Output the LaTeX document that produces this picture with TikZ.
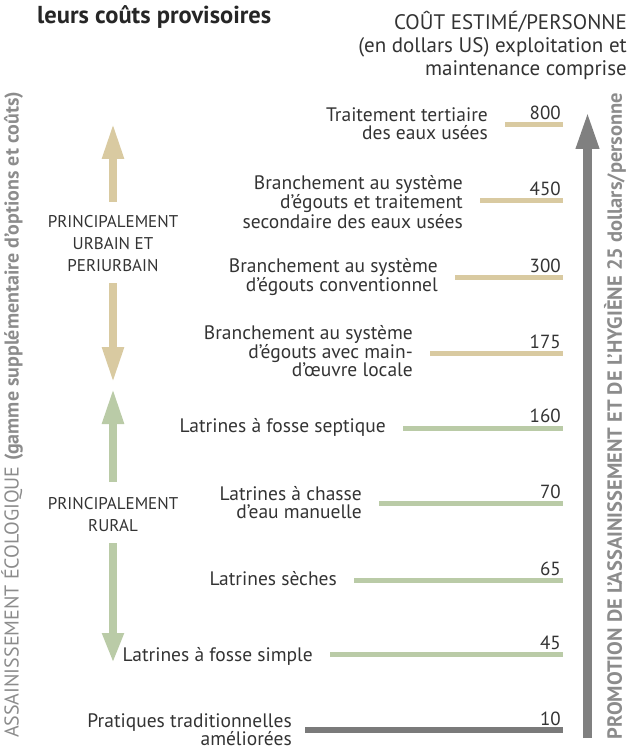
\documentclass[tikz,border=0pt]{standalone}
\usepackage{fontspec}
\setmainfont{PT Sans}
\usetikzlibrary{arrows.meta}
\definecolor{tanc}{HTML}{D9CAA1}
\definecolor{sagec}{HTML}{BACBA7}
\definecolor{axisgray}{HTML}{808080}
\definecolor{basegray}{HTML}{7A7A7A}
\definecolor{txt}{HTML}{333333}
\definecolor{sidegray}{HTML}{8C8C8C}
\begin{document}
\begin{tikzpicture}[x=1pt,y=-1pt,
  lbl/.style={anchor=east, align=right, text=txt, font=\fontsize{19.5}{18}\selectfont, inner sep=0pt},
  num/.style={anchor=base east, text=txt, font=\fontsize{19}{18}\selectfont, inner sep=0pt},
  bar/.style={line width=5pt},
  fatarrow/.style={line width=8pt, -{Triangle[length=36pt,width=20pt]}},
  zone/.style={align=center, text=txt, font=\fontsize{17}{22}\selectfont, inner sep=0pt},
  side/.style={rotate=90, text=sidegray, font=\fontsize{20}{22}\selectfont, inner sep=0pt}
]
\useasboundingbox (0,0) rectangle (631,751);

% title and header
\node[anchor=west, text=black!85, font=\fontsize{24.5}{26}\selectfont\bfseries, inner sep=0pt] (title) at (37,17) {leurs coûts provisoires};
\node[anchor=east, align=right, text=txt, font=\fontsize{21}{23}\selectfont, inner sep=0pt] (head) at (627,45) {COÛT ESTIMÉ/PERSONNE\\(en dollars US) exploitation et\\maintenance comprise};

% side texts
\node[side] (lside) at (12,415) {ASSAINISSEMENT ÉCOLOGIQUE \textbf{(gamme supplémentaire d’options et coûts)}};
\node[side, font=\fontsize{20.5}{22}\selectfont\bfseries] (rside) at (615,416) {PROMOTION DE L’ASSAINISSEMENT ET DE L’HYGIÈNE 25 dollars/personne};

% main axis arrow
\coordinate (axb) at (587.5,738);
\coordinate (axt) at (587.5,111);
\draw[axisgray, line width=9pt, -{Triangle[length=38pt,width=21pt]}] (axb) -- (axt);

% left zone arrows
\node[zone] (urb) at (113,244) {PRINCIPALEMENT\\URBAIN ET\\PERIURBAIN};
\node[zone] (rur) at (113,515) {PRINCIPALEMENT\\RURAL};
\coordinate (u1) at (113,202); \coordinate (u1t) at (113,123);
\coordinate (u2) at (113,283); \coordinate (u2t) at (113,383);
\coordinate (r1) at (113,482); \coordinate (r1t) at (113,388);
\coordinate (r2) at (113,543); \coordinate (r2t) at (113,663);
\draw[tanc, fatarrow] (u1) -- (u1t);
\draw[tanc, fatarrow] (u2) -- (u2t);
\draw[sagec, fatarrow] (r1) -- (r1t);
\draw[sagec, line width=8pt, -{Triangle[length=30pt,width=20pt]}] (r2) -- (r2t);

% items
\node[lbl] (l1) at (488,124) {Traitement tertiaire\\des eaux usées};
\coordinate (b1s) at (505,125); \coordinate (b1e) at (563,125);
\draw[tanc, bar] (b1s) -- (b1e);
\node[num] (n1) at (561,120) {800};

\node[lbl] (l2) at (463,202) {Branchement au système\\d’égouts et traitement\\secondaire des eaux usées};
\coordinate (b2s) at (480,201); \coordinate (b2e) at (563,201);
\draw[tanc, bar] (b2s) -- (b2e);
\node[num] (n2) at (561,196) {450};

\node[lbl] (l3) at (438,277) {Branchement au système\\d’égouts conventionnel};
\coordinate (b3s) at (455,277); \coordinate (b3e) at (563,277);
\draw[tanc, bar] (b3s) -- (b3e);
\node[num] (n3) at (561,272) {300};

\node[lbl] (l4) at (413,351) {Branchement au système\\d’égouts avec main-\\d’œuvre locale};
\coordinate (b4s) at (430,353); \coordinate (b4e) at (563,353);
\draw[tanc, bar] (b4s) -- (b4e);
\node[num] (n4) at (561,348) {175};

\node[lbl] (l5) at (386,427) {Latrines à fosse septique};
\coordinate (b5s) at (403,428); \coordinate (b5e) at (563,428);
\draw[sagec, bar] (b5s) -- (b5e);
\node[num] (n5) at (561,422) {160};

\node[lbl] (l6) at (362,503) {Latrines à chasse\\d’eau manuelle};
\coordinate (b6s) at (379,503); \coordinate (b6e) at (563,503);
\draw[sagec, bar] (b6s) -- (b6e);
\node[num] (n6) at (561,498) {70};

\node[lbl] (l7) at (337,579) {Latrines sèches};
\coordinate (b7s) at (354,580); \coordinate (b7e) at (563,580);
\draw[sagec, bar] (b7s) -- (b7e);
\node[num] (n7) at (561,575) {65};

\node[lbl] (l8) at (313,656) {Latrines à fosse simple};
\coordinate (b8s) at (330,654); \coordinate (b8e) at (563,654);
\draw[sagec, bar] (b8s) -- (b8e);
\node[num] (n8) at (561,649) {45};

\node[lbl] (l9) at (292,730) {Pratiques traditionnelles\\améliorées};
\coordinate (b9s) at (305,730); \coordinate (b9e) at (563,730);
\draw[basegray, line width=6pt] (b9s) -- (b9e);
\node[num] (n9) at (561,725) {10};
\end{tikzpicture}
\end{document}
